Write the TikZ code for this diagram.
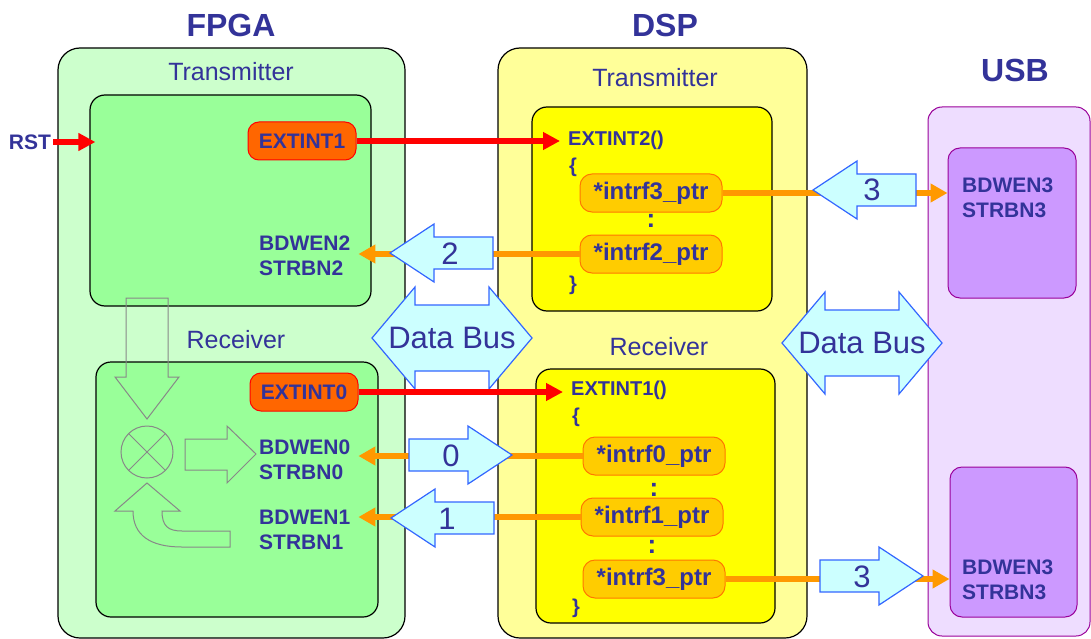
\documentclass[tikz,border=0pt]{standalone}
\usepackage{fontspec}
\setmainfont{Liberation Sans}
\usetikzlibrary{arrows.meta,positioning,fit}
\definecolor{ink}{HTML}{333399}
\definecolor{fpgaout}{HTML}{CCFFCC}
\definecolor{fpgain}{HTML}{99FF99}
\definecolor{dspout}{HTML}{FFFF99}
\definecolor{dspin}{HTML}{FFFF00}
\definecolor{usbout}{HTML}{EEDDFF}
\definecolor{usbin}{HTML}{CC99FF}
\definecolor{usbline}{HTML}{990099}
\definecolor{irqfill}{HTML}{FF6600}
\definecolor{ptrfill}{HTML}{FFCC00}
\definecolor{ptrline}{HTML}{FF7700}
\definecolor{busfill}{HTML}{CCFFFF}
\definecolor{busline}{HTML}{3366FF}
\definecolor{wire}{HTML}{FF9900}
\definecolor{ghost}{HTML}{888888}
\tikzset{
  chip/.style={rectangle,rounded corners=22pt,draw=black,line width=1.2pt,inner sep=0pt},
  unit/.style={rectangle,rounded corners=15pt,draw=black,line width=1.2pt,inner sep=0pt},
  chiptitle/.style={font=\fontsize{32}{36}\selectfont\bfseries,text=ink},
  part/.style={font=\fontsize{25}{28}\selectfont,text=ink},
  irq/.style={rectangle,rounded corners=11pt,draw=red,line width=1pt,fill=irqfill,
              minimum width=108pt,minimum height=38pt,
              font=\fontsize{21}{24}\selectfont\bfseries,text=ink},
  ptr/.style={rectangle,rounded corners=12pt,draw=ptrline,line width=1pt,fill=ptrfill,
              minimum width=142pt,minimum height=38pt,
              font=\fontsize{24}{28}\selectfont\bfseries,text=ink},
  sigtext/.style={align=left,inner sep=2pt,font=\fontsize{21}{25}\selectfont\bfseries,text=ink},
  codetext/.style={anchor=west,inner sep=0pt,font=\fontsize{20}{24}\selectfont\bfseries,text=ink},
  blklabel/.style={font=\fontsize{31}{34}\selectfont,text=ink},
  flow/.style={-{Triangle[length=17pt,width=17pt]},line width=6pt,draw=red},
  feed/.style={-{Triangle[length=17pt,width=18pt]},line width=5.5pt,draw=wire},
  blkarrow/.style={draw=busline,line width=1.2pt,fill=busfill},
  ghost line/.style={draw=ghost,line width=1pt},
  pics/lblk/.style={code={
    \path[blkarrow] (0,0) -- (44,-29) -- (44,-16) -- (103,-16) -- (103,16) -- (44,16) -- (44,29) -- cycle;}},
  pics/bus/.style={code={
    \path[blkarrow] (0,0) -- (43,-51) -- (43,-33) -- (117,-33) -- (117,-51) -- (160,0)
      -- (117,51) -- (117,33) -- (43,33) -- (43,51) -- cycle;}},
}
\begin{document}
\begin{tikzpicture}[x=1pt,y=-1pt]
  \useasboundingbox (0,0) rectangle (1091,639);
  % outer chips
  \node[chip,fill=fpgaout,fit={(58,48) (405,638)}] (fpga) {};
  \node[chip,fill=dspout,fit={(498,48) (807,638)}] (dsp) {};
  \node[chip,rounded corners=14pt,draw=usbline,line width=1pt,fill=usbout,fit={(928,107) (1090,636)}] (usb) {};
  \node[chiptitle] (tfpga) at (231,25) {FPGA};
  \node[chiptitle] (tdsp) at (665,25) {DSP};
  \node[chiptitle] (tusb) at (1015,70) {USB};
  \node[part] (lftx) at (231,72) {Transmitter};
  \node[part] (lfrx) at (236,340) {Receiver};
  \node[part] (ldtx) at (655,78) {Transmitter};
  \node[part] (ldrx) at (659,347) {Receiver};
  % inner units
  \node[unit,fill=fpgain,fit={(90,95) (371,306)}] (ftx) {};
  \node[unit,fill=fpgain,fit={(96,362) (378,617)}] (frx) {};
  \node[unit,fill=dspin,fit={(532,107) (772,311)}] (dtx) {};
  \node[unit,fill=dspin,fit={(536,369) (775,623)}] (drx) {};
  \node[unit,rounded corners=12pt,draw=usbline,line width=1pt,fill=usbin,fit={(948,148) (1076,298)}] (utx) {};
  \node[unit,rounded corners=12pt,draw=usbline,line width=1pt,fill=usbin,fit={(950,467) (1077,617)}] (urx) {};
  % mixer sketch
  \path[ghost line] (126,298) -- (126,377) -- (115,377) -- (147,419) -- (179,377) -- (168,377) -- (168,298) -- cycle;
  \draw[ghost line] (147,452) circle[radius=26pt];
  \draw[ghost line] (147,452) +(-18.4,-18.4) -- +(18.4,18.4) +(-18.4,18.4) -- +(18.4,-18.4);
  \path[ghost line] (185,439) -- (227,439) -- (227,426) -- (256,454) -- (227,483) -- (227,470) -- (185,470) -- cycle;
  \path[ghost line] (147,483) -- (180,511) -- (162,511) .. controls (162,526) and (168,531) .. (182,531)
    -- (230,531) -- (230,547) -- (182,547) .. controls (150,547) and (133,535) .. (133,511) -- (115,511) -- cycle;
  % signals
  \node[sigtext] (rst) at (30,142) {RST};
  \node[irq] (x1) at (302,141) {EXTINT1};
  \node[irq] (x0) at (304,392) {EXTINT0};
  \node[sigtext,anchor=west] (s2) at (257,255.5) {BDWEN2\\STRBN2};
  \node[sigtext,anchor=west] (s0) at (257,459.5) {BDWEN0\\STRBN0};
  \node[sigtext,anchor=west] (s1) at (257,529.5) {BDWEN1\\STRBN1};
  \node[sigtext,anchor=west] (u3a) at (960,197.5) {BDWEN3\\STRBN3};
  \node[sigtext,anchor=west] (u3b) at (960,580) {BDWEN3\\STRBN3};
  % DSP handlers
  \node[codetext] (e2) at (568,140) {EXTINT2()};
  \node[codetext] (ob2) at (569,167) {\{};
  \node[ptr] (p3a) at (651,193) {*intrf3\_ptr};
  \node[codetext,anchor=center,font=\fontsize{26}{28}\selectfont\bfseries] (d1) at (651,221) {:};
  \node[ptr] (p2) at (651,254) {*intrf2\_ptr};
  \node[codetext] (cb2) at (569,285) {\}};
  \node[codetext] (e1) at (571,390) {EXTINT1()};
  \node[codetext] (ob1) at (572,417) {\{};
  \node[ptr] (p0) at (654,456) {*intrf0\_ptr};
  \node[codetext,anchor=center,font=\fontsize{26}{28}\selectfont\bfseries] (d2) at (654,490) {:};
  \node[ptr] (p1) at (652,517) {*intrf1\_ptr};
  \node[codetext,anchor=center,font=\fontsize{26}{28}\selectfont\bfseries] (d3) at (652,547) {:};
  \node[ptr] (p3b) at (654,579) {*intrf3\_ptr};
  \node[codetext] (cb1) at (572,608) {\}};
  % data buses
  \pic at (372,338) {bus};
  \node[blklabel] (bus1) at (452,338) {Data Bus};
  \pic at (782,343) {bus};
  \node[blklabel] (bus2) at (862,343) {Data Bus};
  % wires
  \draw[flow] (rst.east) -- ([xshift=6pt]rst.east -| ftx.west);
  \draw[flow] (x1.east) -- ([xshift=-8pt]x1.east -| e2.west);
  \draw[flow] (x0.east) -- ([xshift=-8pt]x0.east -| e1.west);
  \draw[feed] (p2.west) -- ([xshift=6pt]p2.west -| s2.east);
  \draw[feed] (p0.west) -- ([xshift=6pt]p0.west -| s0.east);
  \draw[feed] (p1.west) -- ([xshift=6pt]p1.west -| s1.east);
  \draw[feed] (p3a.east) -- (p3a.east -| utx.west);
  \draw[feed] (p3b.east) -- (p3b.east -| urx.west);
  % channel arrows
  \pic at (390,253) {lblk};
  \node[blklabel] (c2) at (450,254) {2};
  \pic[xscale=-1] at (512,455) {lblk};
  \node[blklabel] (c0) at (451,456) {0};
  \pic at (391,518) {lblk};
  \node[blklabel] (c1) at (447,519) {1};
  \pic at (813,190) {lblk};
  \node[blklabel] (c3a) at (872,190) {3};
  \pic[xscale=-1] at (923,576) {lblk};
  \node[blklabel] (c3b) at (862,577) {3};
\end{tikzpicture}
\end{document}
